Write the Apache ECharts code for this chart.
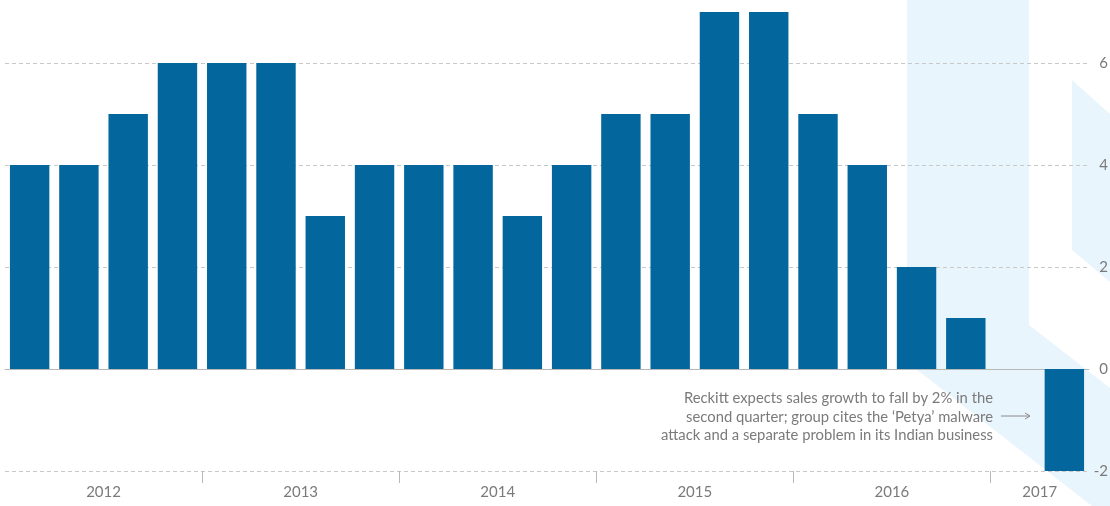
<!DOCTYPE html>
<html>
<head>
<meta charset="utf-8">
<title>Reckitt sales growth</title>
<script src="https://cdn.jsdelivr.net/npm/echarts@6/dist/echarts.min.js"></script>
<style>
  html, body { margin: 0; padding: 0; background: #fff; }
  #main { width: 1110px; height: 506px; }
</style>
</head>
<body>
<div id="main"></div>
<script>
// quarterly like-for-like sales growth, %
var quarters = ['2012 Q1', '2012 Q2', '2012 Q3', '2012 Q4',
                '2013 Q1', '2013 Q2', '2013 Q3', '2013 Q4',
                '2014 Q1', '2014 Q2', '2014 Q3', '2014 Q4',
                '2015 Q1', '2015 Q2', '2015 Q3', '2015 Q4',
                '2016 Q1', '2016 Q2', '2016 Q3', '2016 Q4',
                '2017 Q1', '2017 Q2'];
var growth = [4, 4, 5, 6, 6, 6, 3, 4, 4, 4, 3, 4, 5, 5, 7, 7, 5, 4, 2, 1, 0, -2];

// year labels sit in the middle of their quarters, ticks between years
var years = ['2012', '2013', '2014', '2015', '2016', '2017'];
var yearCentres = [2, 6, 10, 14, 18, 21];
var yearBreaks = [4, 8, 12, 16, 20];

var note = 'Reckitt expects sales growth to fall by 2% in the\n' +
           'second quarter; group cites the \u2018Petya\u2019 malware\n' +
           'attack and a separate problem in its Indian business';

var chart = echarts.init(document.getElementById('main'));

var textFont = 'Lato, "Open Sans", sans-serif';
var blueBg = '#e9f5fc';

var option = {
  animation: false,
  grid: { left: 5, right: 21, top: 12, bottom: 35, outerBoundsMode: 'none', containLabel: false },
  xAxis: [
    {
      type: 'category',
      data: quarters,
      boundaryGap: true,
      axisLine: { onZero: true, lineStyle: { color: '#b8b8b8', width: 1 } },
      axisTick: { show: false },
      axisLabel: { show: false },
      splitLine: { show: false }
    },
    {
      type: 'value',
      position: 'bottom',
      min: 0,
      max: quarters.length,
      axisLine: { show: false, onZero: false },
      axisTick: {
        show: true,
        customValues: yearBreaks,
        length: 12,
        lineStyle: { color: '#b8b8b8', width: 1 }
      },
      axisLabel: {
        customValues: yearCentres,
        margin: 14,
        fontFamily: textFont,
        fontSize: 15,
        color: '#7a7a7a',
        formatter: function (v) {
          var i = yearCentres.indexOf(v);
          return i >= 0 ? years[i] : '';
        }
      },
      splitLine: { show: false }
    }
  ],
  yAxis: {
    type: 'value',
    position: 'right',
    min: -2,
    max: 7,
    interval: 2,
    axisLine: { show: false },
    axisTick: { show: false },
    axisLabel: {
      showMaxLabel: false,
      margin: 19,
      align: 'right',
      fontFamily: textFont,
      fontSize: 15,
      color: '#7a7a7a'
    },
    splitLine: {
      showMaxLine: false,
      lineStyle: { color: '#c8c8c8', type: [4, 3], width: 1 }
    }
  },
  series: [
    {
      type: 'bar',
      name: 'Sales growth',
      xAxisIndex: 0,
      yAxisIndex: 0,
      data: growth,
      barCategoryGap: '20%',
      itemStyle: { color: '#03669c' },
      z: 3
    }
  ],
  graphic: [
    // pale chevron decoration behind the recent quarters
    {
      type: 'polygon',
      silent: true,
      z: -10,
      shape: { points: [[907, 0], [1029, 0], [1029, 325], [1110, 388], [1110, 506], [1092, 506], [907, 362]] },
      style: { fill: blueBg }
    },
    {
      type: 'polygon',
      silent: true,
      z: -10,
      shape: { points: [[1072, 80], [1110, 114], [1110, 282], [1072, 250]] },
      style: { fill: blueBg }
    },
    {
      type: 'text',
      silent: true,
      z: 10,
      x: 993,
      y: 417,
      style: {
        text: note,
        align: 'right',
        verticalAlign: 'middle',
        font: '14.8px ' + textFont,
        lineHeight: 18.5,
        fill: '#7a7a7a'
      }
    },
    {
      type: 'line',
      silent: true,
      z: 10,
      shape: { x1: 1001, y1: 416, x2: 1030, y2: 416 },
      style: { stroke: '#8a8a8a', lineWidth: 1 }
    },
    {
      type: 'polyline',
      silent: true,
      z: 10,
      shape: { points: [[1025, 413], [1030, 416], [1025, 419]] },
      style: { stroke: '#8a8a8a', lineWidth: 1, fill: null }
    }
  ]
};

chart.setOption(option);
</script>
</body>
</html>
